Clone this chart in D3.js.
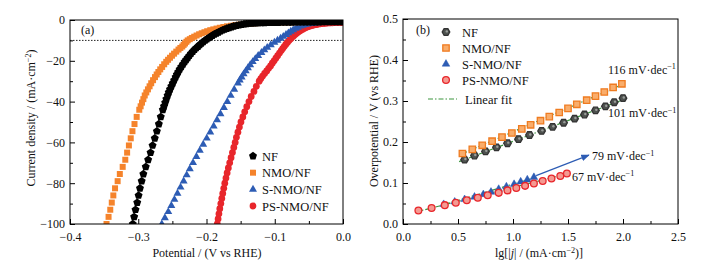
<!DOCTYPE html>
<html>
<head>
<meta charset="utf-8">
<script src="https://cdn.jsdelivr.net/npm/d3@7"></script>
<style>
  body { margin: 0; background: #fff; }
  svg text { font-family: "Liberation Serif", "Times New Roman", serif; fill: #111; }
</style>
</head>
<body>
<script>
// ---- Panel (a): LSV curves, potential (V vs RHE) / current density (mA cm-2)
const nfV = [-0.308,-0.306,-0.304,-0.3015,-0.2995,-0.2975,-0.295,-0.2925,-0.289,-0.2855,-0.282,-0.279,-0.2758,-0.2727,-0.2698,-0.267,-0.264,
  -0.2623,-0.2605,-0.2588,-0.257,-0.2553,-0.2535,-0.2515,-0.2495,-0.2474,-0.2452,-0.2434,-0.2415,-0.2393,-0.237,-0.2345,-0.232,-0.2298,-0.2275,-0.2252,-0.2228,-0.2202,-0.2175,-0.215,-0.2125,-0.21,-0.2075,-0.2048,-0.202,-0.1995,-0.197,-0.1943,-0.1915,-0.1885,-0.1855,-0.1825,-0.1795,-0.1765,-0.1735,-0.1703,-0.167,-0.1635,-0.16,-0.1563,-0.1525,-0.1488,-0.145,-0.1415,-0.138,-0.1345,-0.131,
  -0.1275,-0.124,-0.12,-0.115,-0.11,-0.105,-0.1,-0.095,-0.09,-0.085,-0.08,-0.075,-0.07,-0.065,-0.06,-0.055,-0.05,-0.045,-0.04,-0.035,-0.03,-0.025,-0.02,-0.015,-0.01,-0.005,0];
const nfJ = [-100,-96.5,-93,-89.5,-86,-82.5,-79,-75.5,-72,-68.5,-65,-61.5,-58,-54.5,-51,-47.5,-44,
  -42.3,-40.5,-38.8,-37,-35.5,-34,-32.5,-31,-29.5,-28,-26.7,-25.5,-24.2,-23,-21.7,-20.5,-19.5,-18.5,-17.5,-16.5,-15.5,-14.5,-13.7,-13,-12.2,-11.5,-10.7,-10,-9.4,-8.8,-8.2,-7.6,-7.0,-6.5,-6.0,-5.5,-5.0,-4.6,-4.2,-3.8,-3.45,-3.1,-2.8,-2.5,-2.25,-2.0,-1.85,-1.7,-1.6,-1.5,
  -1.47,-1.44,-1.4,-1.36,-1.32,-1.28,-1.25,-1.22,-1.19,-1.16,-1.13,-1.11,-1.09,-1.07,-1.05,-1.03,-1.01,-1.0,-0.98,-0.97,-0.96,-0.95,-0.94,-0.93,-0.92,-0.91,-0.9];

const nmoV = [-0.3465,-0.3435,-0.341,-0.3388,-0.3365,-0.334,-0.3302,-0.327,-0.3228,-0.319,-0.3163,-0.3137,-0.311,-0.3085,-0.3055,-0.3023,-0.2985,
  -0.2965,-0.2945,-0.2925,-0.2905,-0.2882,-0.2858,-0.2834,-0.281,-0.2783,-0.2755,-0.273,-0.2705,-0.2678,-0.265,-0.262,-0.259,-0.2563,-0.2535,-0.2505,-0.2475,-0.2443,-0.241,-0.2383,-0.2355,-0.2335,-0.2315,-0.2295,-0.2275,-0.2245,-0.2215,-0.218,-0.2145,-0.2108,-0.207,-0.203,-0.199,-0.1945,-0.19,-0.1853,-0.1805,-0.1753,-0.17,-0.164,-0.158,-0.1515,-0.145,-0.14,-0.135,-0.13,-0.125,
  -0.12,-0.115,-0.11,-0.105,-0.1,-0.095,-0.09,-0.085,-0.08,-0.075,-0.07,-0.065,-0.06,-0.055,-0.05,-0.045,-0.04,-0.035,-0.03,-0.025,-0.02,-0.015,-0.01,-0.005,0];
const nmoJ = [-100,-96.5,-93,-89.5,-86,-82.5,-79,-75.5,-72,-68.5,-65,-61.5,-58,-54.5,-51,-47.5,-44,
  -42.3,-40.5,-38.8,-37,-35.5,-34,-32.5,-31,-29.5,-28,-26.7,-25.5,-24.2,-23,-21.7,-20.5,-19.5,-18.5,-17.5,-16.5,-15.5,-14.5,-13.7,-13,-12.2,-11.5,-10.7,-10,-9.4,-8.8,-8.2,-7.6,-7.0,-6.5,-6.0,-5.5,-5.0,-4.6,-4.2,-3.8,-3.45,-3.1,-2.8,-2.5,-2.25,-2.0,-1.85,-1.7,-1.6,-1.5,
  -1.45,-1.4,-1.35,-1.3,-1.26,-1.22,-1.18,-1.15,-1.12,-1.09,-1.06,-1.03,-1.0,-0.98,-0.96,-0.94,-0.93,-0.92,-0.91,-0.9,-0.89,-0.88,-0.87,-0.86,-0.85];

const snmoV = [-0.2655,-0.261,-0.256,-0.2515,-0.247,-0.2425,-0.238,-0.2335,-0.229,-0.2245,-0.2197,-0.2148,-0.2098,-0.2048,-0.1996,-0.1945,-0.1895,-0.1845,-0.1795,-0.1745,-0.1695,-0.1645,-0.1594,
  -0.154,-0.1513,-0.1485,-0.1456,-0.1425,-0.1393,-0.136,-0.1323,-0.1285,-0.1243,-0.1195,-0.1153,-0.111,-0.1058,-0.1005,-0.096,-0.0915,-0.0875,-0.0835,-0.08,-0.0765,-0.073,-0.0695,-0.066,-0.0625,-0.059,-0.0555,-0.052,-0.0485,-0.045,-0.0415,-0.038,-0.0345,-0.031,-0.0275,-0.024,-0.02,-0.016,-0.0125,-0.009,-0.005];
const snmoJ = [-100,-97,-94,-91,-88,-85,-82,-79,-76,-73,-70,-67,-64,-61,-58,-55,-52,-49,-46,-43,-40,-37,-34,
  -31,-29.5,-28,-26.5,-25,-23.5,-22,-20.5,-19,-17.5,-16,-14.7,-13.5,-12.2,-11,-10,-9,-8.1,-7.2,-6.4,-5.6,-4.9,-4.2,-3.6,-3.1,-2.7,-2.3,-2.0,-1.8,-1.65,-1.5,-1.4,-1.3,-1.22,-1.15,-1.1,-1.05,-1.02,-1.0,-0.97,-0.95];

const psV = [-0.1842,-0.183,-0.1818,-0.1805,-0.179,-0.1776,-0.1762,-0.1747,-0.1732,-0.1715,-0.1698,-0.168,-0.166,-0.164,-0.162,-0.16,-0.158,-0.1562,-0.154,-0.1518,-0.1495,-0.1468,-0.144,-0.141,-0.1378,-0.1345,-0.1305,-0.127,
  -0.1228,-0.1204,-0.1178,-0.1149,-0.1118,-0.109,-0.1062,-0.1036,-0.101,-0.0984,-0.0958,-0.0931,-0.0905,-0.0884,-0.0862,-0.0839,-0.0815,-0.0792,-0.077,-0.0748,-0.0725,-0.0702,-0.068,-0.0657,-0.0635,-0.0612,-0.059,-0.0565,-0.054,-0.0512,-0.0485,-0.0457,-0.043,-0.0402,-0.0375,-0.0348,-0.032,-0.0292,-0.0265,-0.0238,-0.021,-0.0183,-0.0155,-0.0128,-0.01,-0.0075,-0.005,-0.0025,0];
const psJ = [-100,-97.5,-95,-92.5,-90,-87.5,-85,-82.5,-80,-77.5,-75,-72.5,-70,-67.5,-65,-62.5,-60,-57.5,-55,-52.5,-50,-47.5,-45,-42.5,-40,-37.5,-35,-32.5,
  -30,-28.7,-27.5,-26.2,-25,-23.7,-22.5,-21.2,-20,-18.7,-17.5,-16.2,-15,-14,-13,-12,-11,-10.1,-9.3,-8.5,-7.8,-7.1,-6.5,-5.9,-5.4,-4.9,-4.5,-4.1,-3.7,-3.3,-3.0,-2.7,-2.5,-2.3,-2.1,-1.95,-1.8,-1.7,-1.6,-1.52,-1.45,-1.4,-1.35,-1.3,-1.28,-1.25,-1.22,-1.21,-1.2];

const refCurrent = -10; // dotted reference line

const aXTicks = [-0.4, -0.3, -0.2, -0.1, 0];
const aYTicks = [-100, -80, -60, -40, -20, 0];

// ---- Panel (b): Tafel plots, lg|j| / overpotential (V)
const tafNfX = [0.56,0.65,0.75,0.85,0.95,1.05,1.15,1.26,1.36,1.46,1.56,1.65,1.75,1.84,1.92,2.0];
const tafNfY = [0.157,0.167,0.177,0.187,0.197,0.207,0.217,0.227,0.237,0.247,0.257,0.267,0.277,0.287,0.297,0.307];
const tafNmoX = [0.54,0.63,0.72,0.81,0.90,0.99,1.08,1.16,1.25,1.33,1.42,1.50,1.58,1.67,1.75,1.83,1.91,1.99];
const tafNmoY = [0.172,0.182,0.192,0.202,0.212,0.222,0.232,0.242,0.252,0.262,0.272,0.282,0.292,0.302,0.312,0.322,0.333,0.342];
const tafSX = [0.37,0.47,0.56,0.65,0.73,0.80,0.87,0.94,1.01,1.07,1.13,1.19];
const tafSY = [0.048,0.054,0.060,0.066,0.072,0.078,0.085,0.091,0.097,0.103,0.108,0.114];
const tafPsX = [0.14,0.26,0.38,0.48,0.58,0.68,0.77,0.87,0.95,1.03,1.11,1.19,1.27,1.35,1.43,1.49];
const tafPsY = [0.033,0.039,0.046,0.052,0.058,0.064,0.070,0.076,0.082,0.088,0.093,0.099,0.105,0.111,0.117,0.123];

// linear fits: NF, NMO/NF, S-NMO/NF, PS-NMO/NF (end points)
const fitX0 = [0.51, 0.51, 0.35, 0.11];
const fitY0 = [0.152, 0.168, 0.046, 0.029];
const fitX1 = [2.0, 2.0, 1.2, 1.5];
const fitY1 = [0.303, 0.341, 0.113, 0.123];

const slopeLabels = ["116", "101", "79", "67"];
const slopeX = [1.864, 1.864, 1.718, 1.536];
const slopeY = [0.366, 0.26, 0.156, 0.105];
const arrowFrom = [1.21, 0.118];
const arrowTo = [1.69, 0.168];

const bXTicks = [0, 0.5, 1.0, 1.5, 2.0, 2.5];
const bYTicks = [0, 0.1, 0.2, 0.3, 0.4, 0.5];

const legendNames = ["NF", "NMO/NF", "S-NMO/NF", "PS-NMO/NF"];

// ---- colours
const cBlack = "#000", cOrange = "#f5832b", cBlue = "#2d5cb4", cRed = "#e8262b", cGreen = "#3d963f";

// shape helpers
function polyPath(n, r, startDeg) {
  const pts = d3.range(n).map((i) => {
    const a = ((startDeg + (i * 360) / n) * Math.PI) / 180;
    return [(r * Math.cos(a)).toFixed(2), (r * Math.sin(a)).toFixed(2)];
  });
  return "M" + pts.join("L") + "Z";
}
const shapes = {
  pentagon: polyPath(5, 4.2, -90),
  square: "M-3,-3h6v6h-6Z",
  triangle: polyPath(3, 4.6, -90),
  circle: d3.symbol(d3.symbolCircle, 36)(),
  hexagon: polyPath(6, 3.8, 0),
  bigSquare: "M-3.2,-3.2h6.4v6.4h-6.4Z",
  bigCircle: d3.symbol(d3.symbolCircle, 36)(),
  tafTriangle: polyPath(3, 4.4, -90),
};

const svg = d3.select("body").append("svg").attr("width", 714).attr("height", 268);

function richText(sel, parts) {
  parts.forEach((p) => {
    const t = sel.append("tspan").text(p.t);
    if (p.sup) t.attr("font-size", "0.68em").attr("dy", -4.5);
    if (p.after) t.attr("dy", 4.5);
    if (p.italic) t.attr("font-style", "italic");
  });
  return sel;
}

function styleAxis(g, size) {
  g.select(".domain").remove();
  g.selectAll("text").attr("font-family", "Liberation Serif, serif").attr("font-size", size).attr("fill", "#111");
  g.selectAll("line").attr("stroke", "#000");
}

// ================= Panel (a) =================
const xA = d3.scaleLinear().domain([-0.4, 0]).range([70, 343]);
const yA = d3.scaleLinear().domain([-100, 0]).range([224, 20]);

svg.append("defs").append("clipPath").attr("id", "clipA")
  .append("rect").attr("x", 70).attr("y", 20).attr("width", 273).attr("height", 204);

const fmtA = (d) => (d === 0 ? "0.0" : "\u2212" + Math.abs(d).toFixed(1));
const fmtAy = (d) => (d === 0 ? "0" : "\u2212" + Math.abs(d));

svg.append("g").attr("transform", "translate(0,224)")
  .call(d3.axisBottom(xA).tickValues(d3.range(-0.35, 0, 0.1)).tickSize(-3).tickFormat(""))
  .call(styleAxis, 12);
svg.append("g").attr("transform", "translate(0,224)")
  .call(d3.axisBottom(xA).tickValues(aXTicks).tickSize(-5).tickPadding(8).tickFormat(fmtA))
  .call(styleAxis, 12);
svg.append("g").attr("transform", "translate(70,0)")
  .call(d3.axisLeft(yA).tickValues(d3.range(-90, 0, 20)).tickSize(-3).tickFormat(""))
  .call(styleAxis, 12);
svg.append("g").attr("transform", "translate(70,0)")
  .call(d3.axisLeft(yA).tickValues(aYTicks).tickSize(-5).tickPadding(5).tickFormat(fmtAy))
  .call(styleAxis, 12);

svg.append("line")
  .attr("x1", xA(-0.4)).attr("x2", xA(0)).attr("y1", yA(refCurrent)).attr("y2", yA(refCurrent))
  .attr("stroke", "#222").attr("stroke-width", 1).attr("stroke-dasharray", "1.5,1.5");

const lsvSeries = [
  { v: psV, j: psJ, color: cRed, shape: "circle" },
  { v: snmoV, j: snmoJ, color: cBlue, shape: "triangle" },
  { v: nmoV, j: nmoJ, color: cOrange, shape: "square" },
  { v: nfV, j: nfJ, color: cBlack, shape: "pentagon" },
];

const lsvG = svg.append("g").attr("clip-path", "url(#clipA)");
lsvSeries.forEach((s) => {
  lsvG.append("g").selectAll("path")
    .data(d3.zip(s.v, s.j))
    .join("path")
    .attr("transform", (d) => `translate(${xA(d[0])},${yA(d[1])})`)
    .attr("d", shapes[s.shape])
    .attr("fill", s.color);
});

svg.append("rect").attr("x", 70).attr("y", 20).attr("width", 273).attr("height", 204)
  .attr("fill", "none").attr("stroke", "#000").attr("stroke-width", 1);

svg.append("text").attr("x", 81).attr("y", 34).attr("font-size", 12).text("(a)");

// legend (a)
const legA = [
  { color: cBlack, shape: "pentagon" },
  { color: cOrange, shape: "square" },
  { color: cBlue, shape: "triangle" },
  { color: cRed, shape: "circle" },
];
const legAY = d3.scalePoint().domain(legendNames).range([156, 206]);
legA.forEach((l, i) => {
  const y = legAY(legendNames[i]);
  svg.append("path").attr("transform", `translate(253,${y})`).attr("d", shapes[l.shape]).attr("fill", l.color);
  svg.append("text").attr("x", 262).attr("y", y + 4.5).attr("font-size", 12.5).text(legendNames[i]);
});

// axis titles (a)
richText(
  svg.append("text").attr("transform", "translate(35,118) rotate(-90)").attr("text-anchor", "middle").attr("font-size", 12),
  [{ t: "Current density / (mA\u00b7cm" }, { t: "\u22122", sup: true }, { t: ")", after: true }]
);
svg.append("text").attr("x", 207).attr("y", 257).attr("text-anchor", "middle").attr("font-size", 12)
  .text("Potential / (V vs RHE)");

// ================= Panel (b) =================
const xB = d3.scaleLinear().domain([0, 2.5]).range([403, 678]);
const yB = d3.scaleLinear().domain([0, 0.5]).range([224, 19]);

svg.append("g").attr("transform", "translate(0,224)")
  .call(d3.axisBottom(xB).tickValues(d3.range(0.25, 2.5, 0.5)).tickSize(-3).tickFormat(""))
  .call(styleAxis, 12);
svg.append("g").attr("transform", "translate(0,224)")
  .call(d3.axisBottom(xB).tickValues(bXTicks).tickSize(-5).tickPadding(8).tickFormat(d3.format(".1f")))
  .call(styleAxis, 12);
svg.append("g").attr("transform", "translate(403,0)")
  .call(d3.axisLeft(yB).tickValues(d3.range(0.05, 0.5, 0.1)).tickSize(-3).tickFormat(""))
  .call(styleAxis, 12);
svg.append("g").attr("transform", "translate(403,0)")
  .call(d3.axisLeft(yB).tickValues(bYTicks).tickSize(-5).tickPadding(5).tickFormat(d3.format(".1f")))
  .call(styleAxis, 12);

// fit lines
const fitLine = d3.line().x((d) => xB(d[0])).y((d) => yB(d[1]));
fitX0.forEach((x0, i) => {
  svg.append("path")
    .attr("d", fitLine([[x0, fitY0[i]], [fitX1[i], fitY1[i]]]))
    .attr("stroke", cGreen).attr("stroke-width", 1.2).attr("fill", "none")
    .attr("stroke-dasharray", "5,2,1.5,2");
});

// markers (b)
const tafSeries = [
  { x: tafNfX, y: tafNfY, shape: "hexagon", fill: "#4e524f", stroke: "#333", inner: "#9a9d9a" },
  { x: tafNmoX, y: tafNmoY, shape: "bigSquare", fill: "#f9ad6b", stroke: "#ef7b20", inner: null },
  { x: tafSX, y: tafSY, shape: "tafTriangle", fill: cBlue, stroke: cBlue, inner: null },
  { x: tafPsX, y: tafPsY, shape: "bigCircle", fill: "#f49a92", stroke: cRed, inner: null },
];
function drawTafMarker(g, s) {
  g.append("path").attr("d", shapes[s.shape]).attr("fill", s.fill)
    .attr("stroke", s.stroke).attr("stroke-width", s.shape === "tafTriangle" ? 0.5 : 1.3);
  if (s.inner) g.append("circle").attr("cx", 0.8).attr("cy", -0.6).attr("r", 1.2).attr("fill", s.inner);
}
tafSeries.forEach((s) => {
  svg.append("g").selectAll("g")
    .data(d3.zip(s.x, s.y))
    .join("g")
    .attr("transform", (d) => `translate(${xB(d[0])},${yB(d[1])})`)
    .each(function () { drawTafMarker(d3.select(this), s); });
});

// arrow
svg.append("defs").append("marker").attr("id", "arrowB")
  .attr("viewBox", "0 0 10 10").attr("refX", 9).attr("refY", 5)
  .attr("markerWidth", 7).attr("markerHeight", 7).attr("orient", "auto")
  .append("path").attr("d", "M0,1L10,5L0,9Z").attr("fill", cBlue);
svg.append("line")
  .attr("x1", xB(arrowFrom[0])).attr("y1", yB(arrowFrom[1]))
  .attr("x2", xB(arrowTo[0])).attr("y2", yB(arrowTo[1]))
  .attr("stroke", cBlue).attr("stroke-width", 1.2).attr("marker-end", "url(#arrowB)");

// slope labels
slopeLabels.forEach((s, i) => {
  richText(
    svg.append("text").attr("x", xB(slopeX[i])).attr("y", yB(slopeY[i])).attr("font-size", 12),
    [{ t: s + " mV\u00b7dec" }, { t: "\u22121", sup: true }]
  );
});

svg.append("rect").attr("x", 403).attr("y", 19).attr("width", 275).attr("height", 205)
  .attr("fill", "none").attr("stroke", "#000").attr("stroke-width", 1);

svg.append("text").attr("x", 416).attr("y", 34).attr("font-size", 12).text("(b)");

// legend (b)
const legBY = d3.scalePoint().domain(legendNames).range([32, 80]);
tafSeries.forEach((s, i) => {
  const g = svg.append("g").attr("transform", `translate(446,${legBY(legendNames[i])})`);
  drawTafMarker(g, s);
  svg.append("text").attr("x", 462).attr("y", legBY(legendNames[i]) + 4.5).attr("font-size", 12.5).text(legendNames[i]);
});
svg.append("line").attr("x1", 428).attr("x2", 457).attr("y1", 99).attr("y2", 99)
  .attr("stroke", cGreen).attr("stroke-width", 1.2).attr("stroke-dasharray", "5,2,1.5,2");
svg.append("text").attr("x", 465).attr("y", 103.5).attr("font-size", 12.5).text("Linear fit");

// axis titles (b)
svg.append("text").attr("transform", "translate(378,121) rotate(-90)").attr("text-anchor", "middle")
  .attr("font-size", 12).text("Overpotential / V (vs RHE)");
richText(
  svg.append("text").attr("x", 539).attr("y", 257).attr("text-anchor", "middle").attr("font-size", 12),
  [{ t: "lg[|" }, { t: "j", italic: true }, { t: "| / (mA\u00b7cm" }, { t: "\u22122", sup: true }, { t: ")]", after: true }]
);
</script>
</body>
</html>
